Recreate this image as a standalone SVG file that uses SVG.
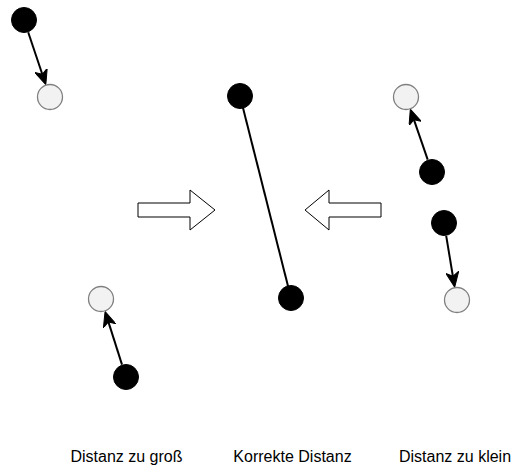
<svg xmlns="http://www.w3.org/2000/svg" width="512" height="467" viewBox="0 0 512 467">
<style>
.b{fill:#000;stroke:#000;stroke-width:1}
.g{fill:#f2f2f2;stroke:#808080;stroke-width:1.3}
.c{stroke:#000;stroke-width:2;fill:none}
.blk{fill:#fff;stroke:#000;stroke-width:1}
text{font-family:"Liberation Sans",Arial,Helvetica,sans-serif;font-size:16px;fill:#000}
</style>
<defs>
<marker id="ah" viewBox="0 0 15 13" refX="4" refY="6.5" markerWidth="15" markerHeight="13" markerUnits="userSpaceOnUse" orient="auto">
<path d="M0,0 L15,6.5 L0,13 L4,6.5 Z" fill="#000" stroke="#000" stroke-width="1"/>
</marker>
</defs>
<rect width="512" height="467" fill="#fff"/>
<g id="connectors">
<line class="c" x1="28.2" y1="32.3" x2="42.3" y2="74.2" marker-end="url(#ah)"/>
<line class="c" x1="122" y1="364.6" x2="108.4" y2="321.9" marker-end="url(#ah)"/>
<line class="c" x1="427.7" y1="159.7" x2="413.9" y2="119.7" marker-end="url(#ah)"/>
<line class="c" x1="446.2" y1="235.8" x2="452.9" y2="276.3" marker-end="url(#ah)"/>
<line class="c" x1="240" y1="96" x2="291" y2="298"/>
</g>
<g id="tooFar-a"><circle class="b" cx="24" cy="20" r="12.5"/></g>
<g id="tooFar-b"><circle class="g" cx="50" cy="97" r="12.5"/></g>
<g id="tooFar2-a"><circle class="g" cx="101" cy="299" r="12.5"/></g>
<g id="tooFar2-b"><circle class="b" cx="126" cy="377" r="12.5"/></g>
<g id="correct-a"><circle class="b" cx="240" cy="96" r="12.5"/></g>
<g id="correct-b"><circle class="b" cx="291" cy="298" r="12.5"/></g>
<g id="tooClose-a"><circle class="g" cx="406" cy="97" r="12.5"/></g>
<g id="tooClose-b"><circle class="b" cx="432" cy="172" r="12.5"/></g>
<g id="tooClose2-a"><circle class="b" cx="444" cy="223" r="12.5"/></g>
<g id="tooClose2-b"><circle class="g" cx="457" cy="300" r="12.5"/></g>
<g id="arrow-right"><path class="blk" d="M138,203 L190,203 L190,190 L215,210 L190,230 L190,217 L138,217 Z"/></g>
<g id="arrow-left"><path class="blk" d="M381,203 L329,203 L329,190 L305,210 L329,230 L329,217 L381,217 Z"/></g>
<g id="labels">
<text x="126.5" y="462" text-anchor="middle">Distanz zu groß</text>
<text x="292.5" y="462" text-anchor="middle">Korrekte Distanz</text>
<text x="399" y="462">Distanz zu klein</text>
</g>
</svg>
